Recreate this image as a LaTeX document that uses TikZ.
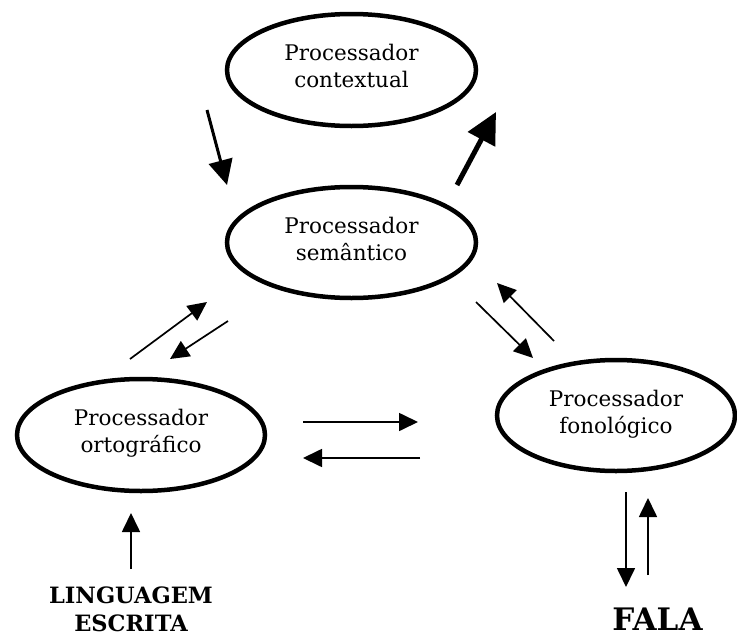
\documentclass[tikz,border=0pt]{standalone}
\usepackage{fontspec}
\setmainfont{DejaVu Serif}
\usetikzlibrary{shapes.geometric,arrows.meta}
\begin{document}
\begin{tikzpicture}[x=1pt,y=-1pt,
  proc/.style={ellipse, draw, line width=4.5pt, inner sep=0pt, align=center,
    text depth=8pt, font=\fontsize{21.5}{27}\selectfont},
  thinarrow/.style={line width=1.7pt, -{Triangle[length=19pt,width=18pt]}},
  midarrow/.style={line width=3pt, -{Triangle[length=25pt,width=24pt]}},
  boldarrow/.style={line width=5pt, -{Triangle[length=31pt,width=30pt]}},
  endlabel/.style={inner sep=0pt, align=center, anchor=north}
]
\useasboundingbox (0,0) rectangle (737,632);

\node[proc, minimum width=249pt, minimum height=112pt] (ctx) at (351.5,70) {Processador\\contextual};
\node[proc, minimum width=249pt, minimum height=111pt] (sem) at (351.5,242.5) {Processador\\semântico};
\node[proc, minimum width=248pt, minimum height=112pt] (ort) at (141,435) {Processador\\ortográfico};
\node[proc, minimum width=238pt, minimum height=111pt] (fon) at (616,415.5) {Processador\\fonológico};

\node[endlabel, font=\bfseries\fontsize{22.5}{28}\selectfont] (esc) at (131,587) {LINGUAGEM\\ESCRITA};
\node[endlabel, font=\bfseries\fontsize{31}{36}\selectfont] (fala) at (657.5,608) {FALA};

% arrow end points
\coordinate (a1s) at (207,110);  \coordinate (a1e) at (227,185);
\coordinate (a2s) at (457,185);  \coordinate (a2e) at (496,112);
\coordinate (a3s) at (130,359);  \coordinate (a3e) at (207,302);
\coordinate (a4s) at (228,321);  \coordinate (a4e) at (170,359);
\coordinate (a5s) at (303,422);  \coordinate (a5e) at (418,422);
\coordinate (a6s) at (420,458);  \coordinate (a6e) at (303,458);
\coordinate (a7s) at (476,302);  \coordinate (a7e) at (533,358);
\coordinate (a8s) at (554,341);  \coordinate (a8e) at (497,283);
\coordinate (a9s) at (626,492);  \coordinate (a9e) at (626,587);
\coordinate (a10s) at (648,575); \coordinate (a10e) at (648,498);
\coordinate (a11s) at (131,569); \coordinate (a11e) at (131,513);

\draw[midarrow] (a1s) -- (a1e);
\draw[boldarrow] (a2s) -- (a2e);
\draw[thinarrow] (a3s) -- (a3e);
\draw[thinarrow] (a4s) -- (a4e);
\draw[thinarrow] (a5s) -- (a5e);
\draw[thinarrow] (a6s) -- (a6e);
\draw[thinarrow] (a7s) -- (a7e);
\draw[thinarrow] (a8s) -- (a8e);
\draw[thinarrow] (a9s) -- (a9e);
\draw[thinarrow] (a10s) -- (a10e);
\draw[thinarrow] (a11s) -- (a11e);
\end{tikzpicture}
\end{document}
